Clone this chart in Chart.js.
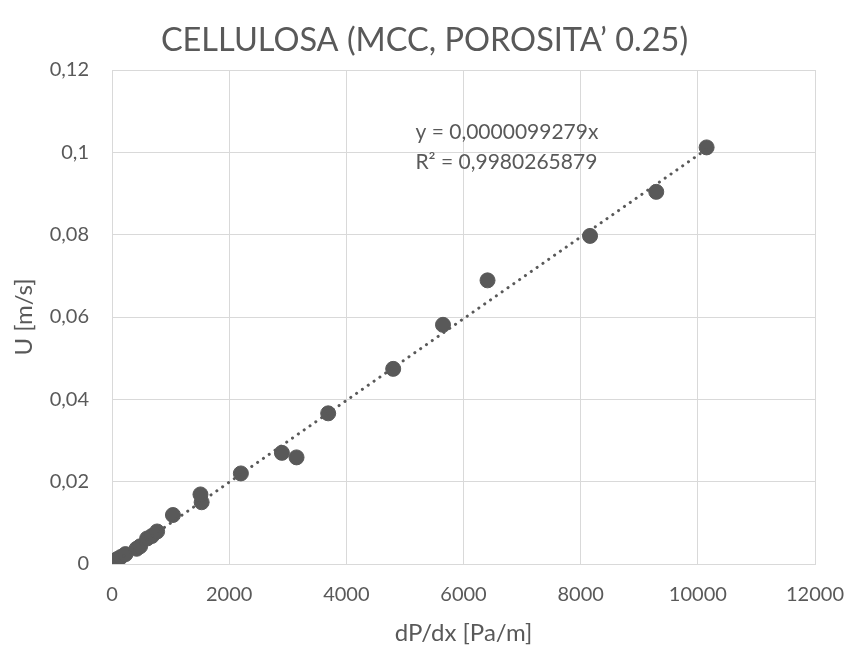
<!DOCTYPE html>
<html>
<head>
<meta charset="utf-8">
<script src="https://cdn.jsdelivr.net/npm/chart.js@4/dist/chart.umd.min.js"></script>
<style>
html,body{margin:0;padding:0;background:#fff;}
#wrap{width:849px;height:647px;}
</style>
</head>
<body>
<div id="wrap"><canvas id="c" width="849" height="647"></canvas></div>
<script>
// Data
const dpdx = [30, 90, 150, 230, 420, 480, 600, 680, 770, 1040, 1530, 1510, 2200, 2900, 3150, 3690, 4800, 5650, 6410, 8160, 9290, 10150];
const velocity = [0.0008, 0.0012, 0.0017, 0.0024, 0.0037, 0.0043, 0.0062, 0.0068, 0.0079, 0.0119, 0.0150, 0.0169, 0.0220, 0.0270, 0.0259, 0.0366, 0.0474, 0.0581, 0.0689, 0.0797, 0.0904, 0.1012];
const trendSlope = 0.0000099279;
const trendRange = [0, 10150];
const equationLines = ["y = 0,0000099279x", "R\u00B2 = 0,9980265879"];
const titleText = "CELLULOSA (MCC, POROSITA\u2019 0.25)";
const xTitle = "dP/dx [Pa/m]";
const yTitle = "U [m/s]";

const grey = "#595959";
const gridGrey = "#d9d9d9";
const FONT = "Lato, 'Open Sans', sans-serif";

const points = dpdx.map((x, i) => ({x: x, y: velocity[i]}));
const trend = trendRange.map(x => ({x: x, y: trendSlope * x}));

const eqPlugin = {
  id: 'eq',
  afterDatasetsDraw(chart) {
    const ctx = chart.ctx;
    const xs = chart.scales.x, ys = chart.scales.y;
    const left = xs.getPixelForValue(5180);
    const top = ys.getPixelForValue(0.1048);
    ctx.save();
    ctx.fillStyle = grey;
    ctx.font = "21px " + FONT;
    ctx.textBaseline = "middle";
    ctx.textAlign = "left";
    equationLines.forEach((t, i) => ctx.fillText(t, left, top + i * 30));
    ctx.restore();
  }
};

new Chart(document.getElementById('c'), {
  type: 'scatter',
  data: {
    datasets: [
      {
        type: 'line',
        data: trend,
        showLine: true,
        borderColor: grey,
        borderWidth: 3,
        borderDash: [0.1, 7],
        borderCapStyle: 'round',
        pointRadius: 0,
        fill: false,
        order: 0
      },
      {
        data: points,
        backgroundColor: grey,
        borderColor: grey,
        pointRadius: 7.5,
        pointHoverRadius: 7.5,
        order: 1
      }
    ]
  },
  plugins: [eqPlugin],
  options: {
    responsive: false,
    animation: false,
    devicePixelRatio: 1,
    layout: {padding: 0},
    plugins: {
      legend: {display: false},
      tooltip: {enabled: false},
      title: {
        display: true,
        text: titleText,
        color: grey,
        font: {family: FONT, size: 32.5, weight: 'normal'},
        padding: {top: 21, bottom: 10}
      }
    },
    scales: {
      x: {
        type: 'linear',
        min: 0, max: 12000,
        ticks: {stepSize: 2000, color: grey, font: {family: FONT, size: 20}, padding: 19,
          callback: v => String(v)},
        grid: {color: gridGrey, lineWidth: 1, drawTicks: false},
        border: {color: gridGrey},
        title: {display: true, text: xTitle, color: grey, font: {family: FONT, size: 24}, padding: {top: 0, bottom: -1}},
        afterFit(s) { s.height = 83; s.paddingRight = 34; s.paddingLeft = 0; }
      },
      y: {
        type: 'linear',
        min: 0, max: 0.12,
        ticks: {
          stepSize: 0.02, color: grey, font: {family: FONT, size: 20}, padding: 23,
          callback: v => String(Number(v.toFixed(2))).replace('.', ',')
        },
        grid: {color: gridGrey, lineWidth: 1, drawTicks: false},
        border: {color: gridGrey},
        title: {display: true, text: yTitle, color: grey, font: {family: FONT, size: 24}, padding: {top: 9.6, bottom: 0}},
        afterFit(s) { s.width = 112; }
      }
    }
  }
});
</script>
</body>
</html>
